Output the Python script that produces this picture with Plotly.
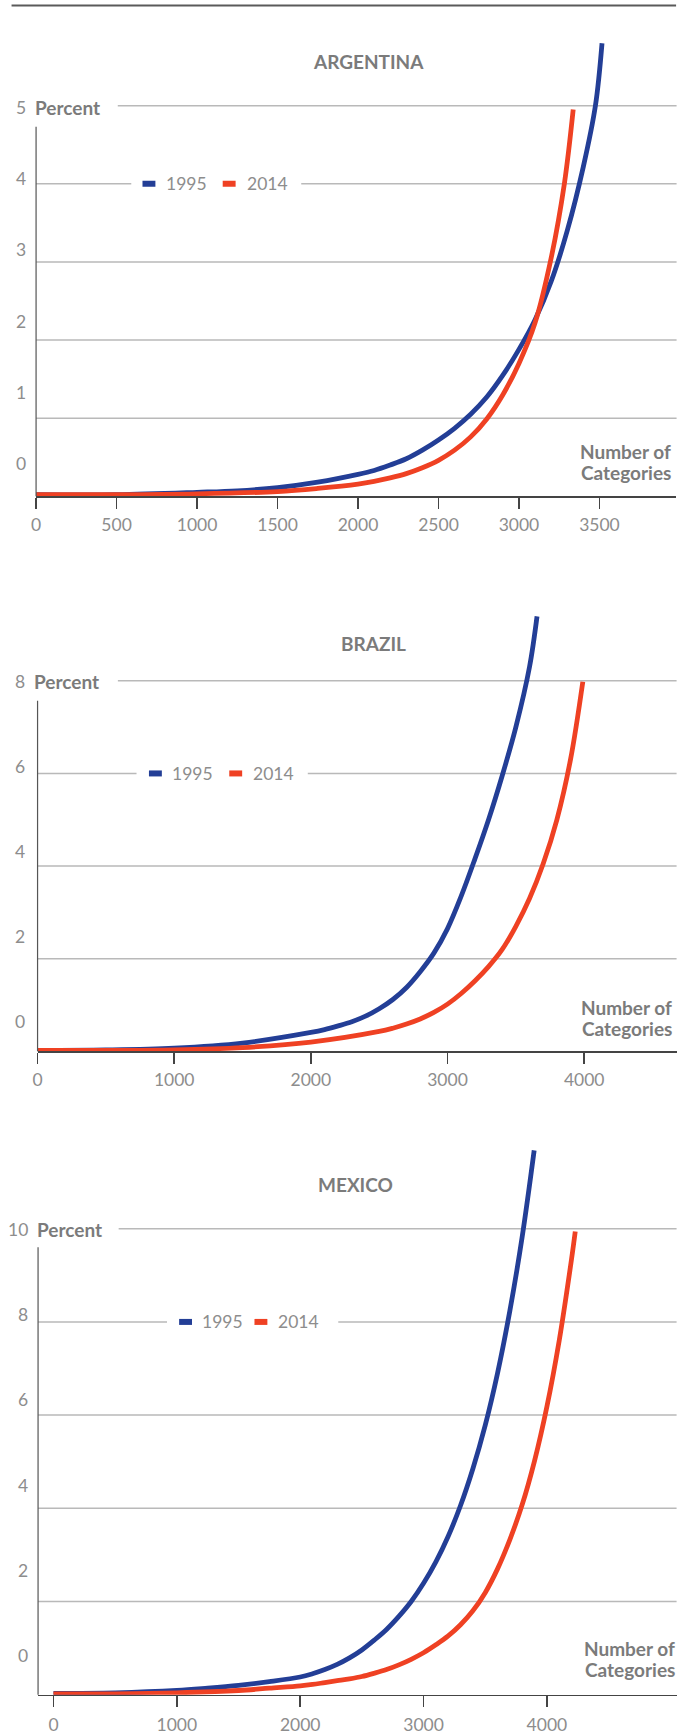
import plotly.graph_objects as go

# ---------------- data ----------------
ARG_1995_X = [0, 500, 1000, 1250, 1500, 1750, 2000, 2100, 2200, 2300, 2400, 2500, 2600, 2700, 2800, 2900,
              3000, 3100, 3200, 3300, 3400, 3475, 3516]
ARG_1995_Y = [0.02, 0.02, 0.05, 0.07, 0.11, 0.18, 0.28, 0.33, 0.4, 0.48, 0.59, 0.72, 0.87, 1.05, 1.27, 1.55,
              1.88, 2.26, 2.75, 3.4, 4.22, 5.0, 5.8]
ARG_2014_X = [0, 500, 1000, 1500, 1750, 2000, 2100, 2200, 2300, 2400, 2500, 2600, 2700, 2800, 2900, 3000,
              3100, 3200, 3282, 3337]
ARG_2014_Y = [0.02, 0.02, 0.03, 0.06, 0.1, 0.155, 0.19, 0.235, 0.29, 0.365, 0.46, 0.59, 0.76, 0.99, 1.3, 1.7,
              2.22, 3.05, 4.0, 4.95]

BRA_1995_X = [0, 500, 1000, 1500, 2000, 2100, 2200, 2300, 2400, 2500, 2600, 2700, 2800, 2900, 3000, 3100,
              3200, 3300, 3400, 3500, 3600, 3655]
BRA_1995_Y = [0.02, 0.03, 0.07, 0.18, 0.41, 0.47, 0.55, 0.64, 0.76, 0.92, 1.12, 1.38, 1.72, 2.12, 2.65, 3.35,
              4.15, 5.0, 5.95, 7.0, 8.3, 9.39]
BRA_2014_X = [0, 500, 1000, 1500, 2000, 2500, 2600, 2700, 2800, 2900, 3000, 3100, 3200, 3300, 3400, 3500,
              3600, 3700, 3800, 3900, 3990]
BRA_2014_Y = [0.02, 0.02, 0.03, 0.08, 0.2, 0.43, 0.5, 0.59, 0.7, 0.84, 1.02, 1.25, 1.52, 1.83, 2.2, 2.7,
              3.3, 4.05, 5.0, 6.3, 7.98]

MEX_1995_X = [0, 500, 1000, 1250, 1500, 1750, 2000, 2100, 2200, 2300, 2400, 2500, 2600, 2700, 2800, 2900,
              3000, 3100, 3200, 3300, 3400, 3500, 3600, 3700, 3800, 3897]
MEX_1995_Y = [0.03, 0.04, 0.09, 0.14, 0.2, 0.28, 0.38, 0.45, 0.54, 0.65, 0.79, 0.96, 1.17, 1.4, 1.68, 2.0,
              2.39, 2.85, 3.4, 4.06, 4.85, 5.78, 6.9, 8.24, 9.83, 11.68]
MEX_2014_X = [0, 500, 1000, 1500, 1750, 2000, 2100, 2200, 2300, 2400, 2500, 2600, 2700, 2800, 2900, 3000,
              3100, 3200, 3300, 3400, 3500, 3600, 3700, 3800, 3900, 4000, 4100, 4200, 4230]
MEX_2014_Y = [0.02, 0.02, 0.04, 0.09, 0.14, 0.19, 0.22, 0.26, 0.3, 0.34, 0.39, 0.46, 0.54, 0.64, 0.76, 0.9,
              1.07, 1.26, 1.5, 1.8, 2.19, 2.7, 3.33, 4.08, 5.02, 6.18, 7.6, 9.35, 9.94]

COUNTRIES = ["ARGENTINA", "BRAZIL", "MEXICO"]
SERIES = ["1995", "2014"]
ARG_TICKS = [0, 500, 1000, 1500, 2000, 2500, 3000, 3500]
BRA_TICKS = [0, 1000, 2000, 3000, 4000]
MEX_TICKS = [0, 1000, 2000, 3000, 4000]
ARG_YLABELS = ["0", "1", "2", "3", "4", "5"]
BRA_YLABELS = ["0", "2", "4", "6", "8"]
MEX_YLABELS = ["0", "2", "4", "6", "8", "10"]
ARG_GRID = [1, 2, 3, 4, 5]
BRA_GRID = [2, 4, 6, 8]
MEX_GRID = [2, 4, 6, 8, 10]

# ---------------- style ----------------
W, H = 688, 1735
BLUE = "#233E96"
RED = "#EF4123"
NUM_C = "#8d8d8d"
LAB_C = "#7b7b7b"
GRID_C = "#b9b9b9"
AXIS_C = "#444444"
FONT = "Lato"
NUM_SIZE = 17.5
BOLD_SIZE = 19


def fx(px):
    return px / W


def fy(py):
    return 1 - py / H


fig = go.Figure()

panels = [
    dict(name=COUNTRIES[0], ax="", X=(ARG_1995_X, ARG_2014_X), Y=(ARG_1995_Y, ARG_2014_Y),
         x0=31.3, x1=676.3, xr=[0, 3978], base=500.0, top=500.0 - 78.7 * 6.0, yr=[0, 6.0],
         ticks=ARG_TICKS, grid=ARG_GRID, gapgrid=4, gap=(127.2, 298.4), pct_start=113.6,
         ylabels=ARG_YLABELS, ylab_first=467.5, ylab_step=71.9, ylab_right=22.5,
         yline_top=127.7, title=(365.8, 61.7), leg=(137.5, 160.7, 218.3, 242.7),
         noc=(672, 455.0, 476.0), standoff=1),
    dict(name=COUNTRIES[1], ax="2", X=(BRA_1995_X, BRA_2014_X), Y=(BRA_1995_Y, BRA_2014_Y),
         x0=32.8, x1=677.3, xr=[0, 4682], base=1059.3, top=1059.3 - 46.67 * 10.0, yr=[0, 10.0],
         ticks=BRA_TICKS, grid=BRA_GRID, gapgrid=6, gap=(132.5, 305.0), pct_start=113.7,
         ylabels=BRA_YLABELS, ylab_first=1029.3, ylab_step=85.6, ylab_right=21.2,
         yline_top=706.0, title=(371.2, 648.0), leg=(144.0, 167.2, 224.9, 249.3),
         noc=(673.3, 1015.0, 1036.7), standoff=1),
    dict(name=COUNTRIES[2], ax="3", X=(MEX_1995_X, MEX_2014_X), Y=(MEX_1995_Y, MEX_2014_Y),
         x0=33.3, x1=677.3, xr=[-125, 5058], base=1707.5, top=1707.5 - 46.95 * 12.2, yr=[0, 12.2],
         ticks=MEX_TICKS, grid=MEX_GRID, gapgrid=8, gap=(163.2, 335.7), pct_start=114.5,
         ylabels=MEX_YLABELS, ylab_first=1668.3, ylab_step=86.0, ylab_right=24.0,
         yline_top=1256.7, title=(352.6, 1193.3), leg=(174.4, 197.5, 250.3, 274.3),
         noc=(675.7, 1660.7, 1682.3), standoff=3),
]

shapes = []
annotations = []

# top rule
shapes.append(dict(type="line", xref="paper", yref="paper", x0=fx(6.6), x1=fx(676), y0=fy(5.5), y1=fy(5.5),
                   line=dict(color="#5a5a5a", width=2)))


def txt(text, x, y, xanchor, size, color, xref="paper", yref="paper"):
    return dict(text=text, xref=xref, yref=yref, x=x, y=y, xanchor=xanchor, yanchor="middle",
                showarrow=False, font=dict(family=FONT, size=size, color=color), borderpad=0)


for p in panels:
    xa = "x" + p["ax"]
    ya = "y" + p["ax"]
    for i, (xs, ys) in enumerate(zip(p["X"], p["Y"])):
        fig.add_trace(go.Scatter(x=xs, y=ys, mode="lines", name=SERIES[i], showlegend=False,
                                 xaxis=xa, yaxis=ya, hoverinfo="skip",
                                 line=dict(color=[BLUE, RED][i], width=4.8, shape="spline", smoothing=1.0)))
    axkey = "xaxis" + p["ax"]
    aykey = "yaxis" + p["ax"]
    fig.layout[axkey] = dict(domain=[fx(p["x0"]), fx(p["x1"])], range=p["xr"], anchor=ya,
                            showgrid=False, zeroline=False, showline=True, linecolor=AXIS_C, linewidth=1.6,
                            ticks="outside", ticklen=11, tickwidth=1.5, tickcolor=AXIS_C,
                            tickvals=p["ticks"], ticktext=[str(t) for t in p["ticks"]],
                            ticklabelstandoff=p["standoff"],
                            tickfont=dict(family=FONT, size=NUM_SIZE, color=NUM_C))
    fig.layout[aykey] = dict(domain=[fy(p["base"]), fy(p["top"])], range=p["yr"], anchor=xa,
                            showgrid=False, zeroline=False, showline=False, showticklabels=False, ticks="")

    # gridlines
    for g in p["grid"]:
        if g == p["grid"][-1]:
            segs = [(p["pct_start"], 676.5)]
        elif g == p["gapgrid"]:
            segs = [(p["x0"], p["gap"][0]), (p["gap"][1], 676.5)]
        else:
            segs = [(p["x0"], 676.5)]
        for a, b in segs:
            shapes.append(dict(type="line", xref="paper", yref=ya, x0=fx(a), x1=fx(b), y0=g, y1=g,
                               layer="below", line=dict(color=GRID_C, width=1.5)))
    # y axis vertical line
    shapes.append(dict(type="line", xref="paper", yref="paper", x0=fx(p["x0"]), x1=fx(p["x0"]),
                       y0=fy(p["yline_top"]), y1=fy(p["base"]), line=dict(color="#555555", width=1.2)))

    # y labels
    for k, lab in enumerate(p["ylabels"]):
        annotations.append(txt(lab, fx(p["ylab_right"]), fy(p["ylab_first"] - k * p["ylab_step"]),
                               "right", NUM_SIZE, NUM_C))
    top_lab_y = p["ylab_first"] - (len(p["ylabels"]) - 1) * p["ylab_step"]
    annotations.append(txt("<b>Percent</b>", fx(p["ylab_right"] + 7.0), fy(top_lab_y), "left", BOLD_SIZE, LAB_C))
    # title
    annotations.append(txt("<b>" + p["name"] + "</b>", fx(p["title"][0]), fy(p["title"][1]), "center",
                           BOLD_SIZE, LAB_C))
    # Number of Categories
    annotations.append(txt("<b>Number of</b>", fx(p["noc"][0]), fy(p["noc"][1]), "right", BOLD_SIZE, LAB_C))
    annotations.append(txt("<b>Categories</b>", fx(p["noc"][0]), fy(p["noc"][2]), "right", BOLD_SIZE, LAB_C))
    # legend
    bx, btx, rx, rtx = p["leg"]
    for (dx, tx, col, lab) in [(bx, btx, BLUE, SERIES[0]), (rx, rtx, RED, SERIES[1])]:
        shapes.append(dict(type="line", xref="paper", yref=ya, x0=fx(dx + 1), x1=fx(dx + 14),
                           y0=p["gapgrid"], y1=p["gapgrid"], line=dict(color=col, width=6)))
        annotations.append(txt(lab, fx(tx), p["gapgrid"], "left", NUM_SIZE, NUM_C, yref=ya))

# width/height come from the (absolutely positioned) div so the page body margin has no effect
fig.update_layout(margin=dict(l=0, r=0, t=0, b=0), autosize=True,
                  paper_bgcolor="white", plot_bgcolor="rgba(0,0,0,0)", hovermode=False,
                  shapes=shapes, annotations=annotations, showlegend=False)

fig.write_html("out.html", config={"displayModeBar": False, "staticPlot": True, "responsive": False},
               default_width=str(W) + "px",
               default_height=str(H) + "px; position:absolute; top:0px; left:0px",
               post_script="document.body.style.margin='0';")
